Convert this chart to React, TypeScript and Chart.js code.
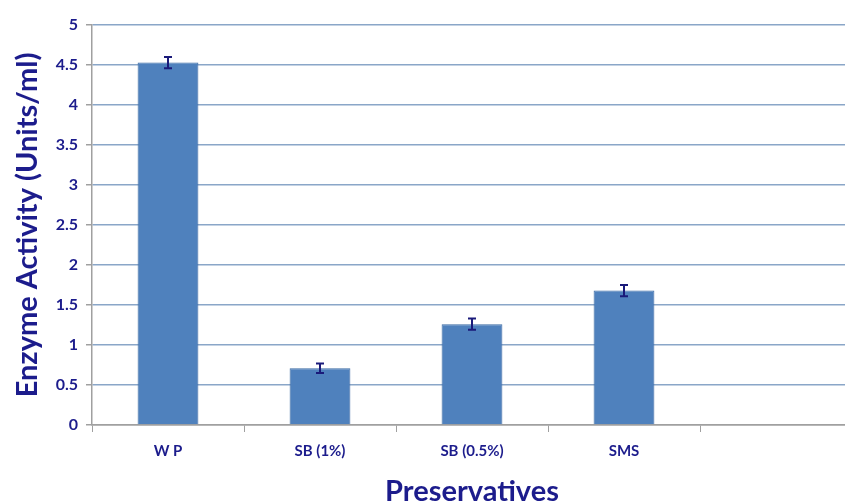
import React, { useEffect, useRef } from "react";
import { Chart, registerables } from "chart.js";

Chart.register(...registerables);

const categories = ["W P", "SB (1%)", "SB (0.5%)", "SMS", ""];
const values = [4.53, 0.71, 1.26, 1.68, null];
const errors = [0.07, 0.06, 0.07, 0.07, 0];
const yTicks = [0, 0.5, 1, 1.5, 2, 2.5, 3, 3.5, 4, 4.5, 5];
const yTickLabels = ["0", "0.5", "1", "1.5", "2", "2.5", "3", "3.5", "4", "4.5", "5"];

const TEXT = "#1c1c8c";
const FONT = "Lato, 'Open Sans', sans-serif";

const errorBarPlugin = {
  id: "errorBars",
  afterDatasetsDraw(chart: any) {
    const ctx = chart.ctx;
    const meta = chart.getDatasetMeta(0);
    const y = chart.scales.y;
    ctx.save();
    ctx.strokeStyle = "#1a1a7a";
    ctx.lineWidth = 2;
    meta.data.forEach((bar: any, i: number) => {
      const v = values[i];
      const e = errors[i];
      if (v == null || !e) return;
      const x = bar.x;
      const top = y.getPixelForValue(v + e);
      const bot = y.getPixelForValue(v - e);
      ctx.beginPath();
      ctx.moveTo(x, top);
      ctx.lineTo(x, bot);
      ctx.moveTo(x - 4, top);
      ctx.lineTo(x + 4, top);
      ctx.moveTo(x - 4, bot);
      ctx.lineTo(x + 4, bot);
      ctx.stroke();
    });
    ctx.restore();
  },
};

export default function App() {
  const ref = useRef<HTMLCanvasElement>(null);
  useEffect(() => {
    if (!ref.current) return;
    const chart = new Chart(ref.current, {
      type: "bar",
      data: {
        labels: categories,
        datasets: [
          {
            data: values as any,
            backgroundColor: "#4f81bd",
            borderColor: "#3b6aa3",
            borderWidth: 1,
            barPercentage: 0.8,
            categoryPercentage: 0.5,
          },
        ],
      },
      options: {
        animation: false,
        responsive: false,
        maintainAspectRatio: false,
        layout: { padding: { left: 0, top: 25, right: 0, bottom: 0 } },
        plugins: { legend: { display: false }, tooltip: { enabled: false } },
        scales: {
          x: {
            offset: true,
            grid: {
              offset: true,
              drawOnChartArea: false,
              drawTicks: true,
              tickLength: 7,
              color: "#a0a0a0",
            },
            border: { color: "#a0a0a0", width: 1.5 },
            ticks: {
              color: TEXT,
              font: { family: FONT, size: 15, weight: "bold" },
              padding: 10,
            },
            title: {
              display: true,
              text: "Preservatives",
              color: TEXT,
              font: { family: FONT, size: 29, weight: "bold", lineHeight: 0.8 },
              padding: { top: 21, bottom: 0 },
            },
            afterFit(scale: any) {
              scale.height = 78;
            },
          },
          y: {
            min: 0,
            max: 5,
            afterBuildTicks(scale: any) {
              scale.ticks = yTicks.map((v) => ({ value: v }));
            },
            grid: {
              color: (c: any) => (c.tick && c.tick.value === 0 ? "#a0a0a0" : "#8aa6c8"),
              lineWidth: 1.5,
              tickLength: 6,
              tickColor: "#a0a0a0",
            },
            border: { color: "#a0a0a0", width: 1.5 },
            ticks: {
              color: TEXT,
              font: { family: FONT, size: 16, weight: "bold" },
              padding: 8,
              callback: (_v: any, i: number) => yTickLabels[i],
            },
            title: {
              display: true,
              text: "Enzyme Activity (Units/ml)",
              color: TEXT,
              font: { family: FONT, size: 29, weight: "bold" },
              padding: { top: 10, bottom: 0 },
            },
            afterFit(scale: any) {
              scale.width = 92;
            },
          },
        },
      },
      plugins: [errorBarPlugin],
    });
    return () => chart.destroy();
  }, []);
  return (
    <div
      style={{
        position: "absolute",
        left: 0,
        top: 0,
        width: 845,
        height: 503,
        overflow: "hidden",
        background: "#fff",
      }}
    >
      <canvas ref={ref} width={852} height={503} style={{ display: "block" }} />
    </div>
  );
}
